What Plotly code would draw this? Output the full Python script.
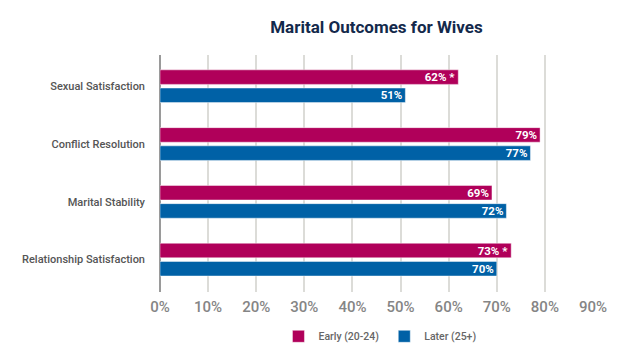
import plotly.graph_objects as go

categories = ["Sexual Satisfaction", "Conflict Resolution", "Marital Stability", "Relationship Satisfaction"]
early = [0.62, 0.79, 0.69, 0.73]
later = [0.51, 0.77, 0.72, 0.70]
early_labels = ["62% *", "79%", "69%", "73% *"]
later_labels = ["51%", "77%", "72%", "70%"]
tick_vals = [0, 0.1, 0.2, 0.3, 0.4, 0.5, 0.6, 0.7, 0.8, 0.9]
tick_text = ["0%", "10%", "20%", "30%", "40%", "50%", "60%", "70%", "80%", "90%"]

FONT = "Roboto"
fig = go.Figure()
fig.add_trace(go.Bar(
    y=categories, x=early, orientation="h", name="Early (20-24)",
    marker=dict(color="#B0005A", line=dict(color="rgba(255,255,255,0.45)", width=1)),
    text=early_labels, textposition="inside", insidetextanchor="end",
    textfont=dict(color="white", size=11.5, family=FONT, weight="bold"),
    constraintext="none", cliponaxis=False,
))
fig.add_trace(go.Bar(
    y=categories, x=later, orientation="h", name="Later (25+)",
    marker=dict(color="#0061A6", line=dict(color="rgba(255,255,255,0.45)", width=1)),
    text=later_labels, textposition="inside", insidetextanchor="end",
    textfont=dict(color="white", size=11.5, family=FONT, weight="bold"),
    constraintext="none", cliponaxis=False,
))

fig.update_layout(
    width=640, height=354,
    margin=dict(l=160, r=47, t=55, b=62, autoexpand=False),
    paper_bgcolor="white", plot_bgcolor="white",
    barmode="group", bargap=0.37, bargroupgap=0.2,
    title=dict(text="Marital Outcomes for Wives", x=0.5, xref="paper", xanchor="center",
               y=0.925, yref="container", yanchor="middle",
               font=dict(family=FONT, size=17, color="#13294B", weight="bold")),
    xaxis=dict(range=[0, 0.9], tickvals=tick_vals, ticktext=tick_text,
               showgrid=True, gridcolor="#dcdcd8", gridwidth=1.5,
               zeroline=True, zerolinecolor="#9a9a9a", zerolinewidth=1.5,
               tickfont=dict(family=FONT, size=15, color="#858585", weight=500),
               ticks="", showline=False, fixedrange=True, ticklabelstandoff=4,
               automargin=False),
    yaxis=dict(categoryorder="array", categoryarray=categories,
               range=[3.56, -0.54], showgrid=False, ticks="",
               tickfont=dict(family=FONT, size=11, color="#555555", weight=500),
               ticklabelstandoff=14, showline=False, automargin=False),
    legend=dict(orientation="h", x=0.508, xanchor="center",
                yref="container", y=0.05, yanchor="middle",
                font=dict(family=FONT, size=10.5, color="#666666", weight=500),
                traceorder="normal", itemwidth=30),
    showlegend=True,
)

fig.write_html("out.html")
